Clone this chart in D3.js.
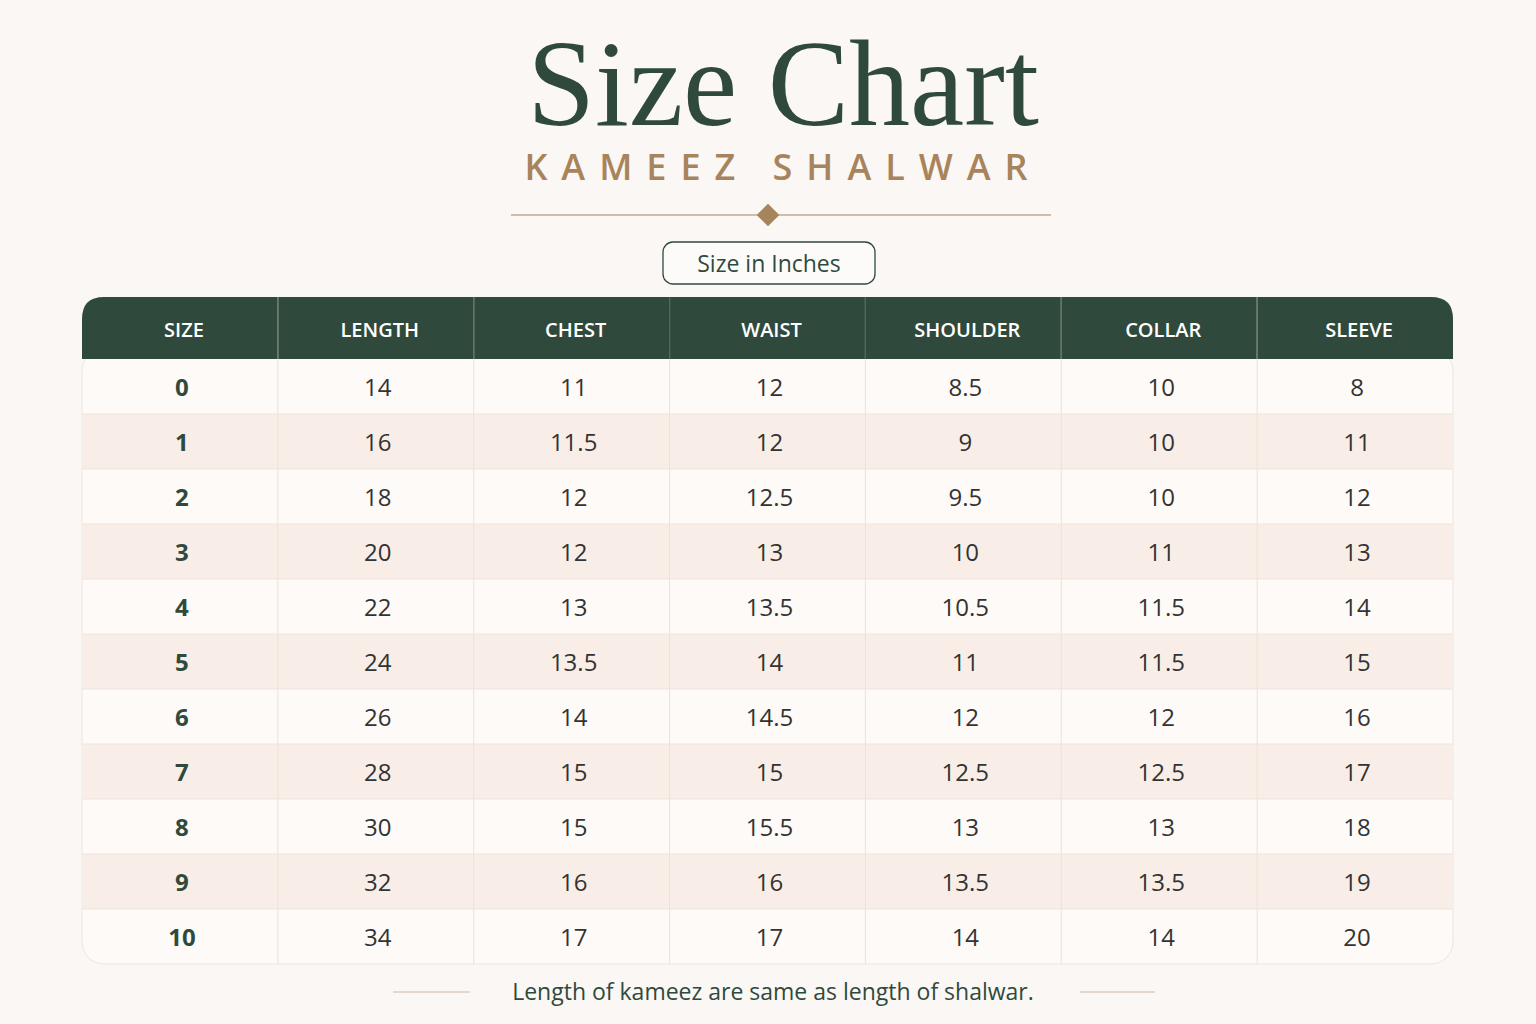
<!DOCTYPE html>
<html lang="en">
<head>
<meta charset="utf-8">
<title>Size Chart</title>
<script src="https://cdn.jsdelivr.net/npm/d3@7"></script>
<style>
  body { margin: 0; background: #fbf7f4; }
  text { font-family: "Open Sans", Lato, sans-serif; }
</style>
</head>
<body>
<script>
var columns = ["SIZE", "LENGTH", "CHEST", "WAIST", "SHOULDER", "COLLAR", "SLEEVE"];
var sizes    = ["0", "1", "2", "3", "4", "5", "6", "7", "8", "9", "10"];
var length   = ["14", "16", "18", "20", "22", "24", "26", "28", "30", "32", "34"];
var chest    = ["11", "11.5", "12", "12", "13", "13.5", "14", "15", "15", "16", "17"];
var waist    = ["12", "12", "12.5", "13", "13.5", "14", "14.5", "15", "15.5", "16", "17"];
var shoulder = ["8.5", "9", "9.5", "10", "10.5", "11", "12", "12.5", "13", "13.5", "14"];
var collar   = ["10", "10", "10", "11", "11.5", "11.5", "12", "12.5", "13", "13.5", "14"];
var sleeve   = ["8", "11", "12", "13", "14", "15", "16", "17", "18", "19", "20"];
var series = [sizes, length, chest, waist, shoulder, collar, sleeve];

var w = 1536, h = 1024;
var green = "#2f4a3d", gold = "#a8845c";

var svg = d3.select("body").append("svg").attr("width", w).attr("height", h);
svg.append("rect").attr("width", w).attr("height", h).attr("fill", "#fbf7f4");

// title block
svg.append("text").attr("x", 783).attr("y", 125).attr("text-anchor", "middle")
   .style("font-family", "'Liberation Serif', 'DejaVu Serif', serif").attr("font-size", 122)
   .attr("fill", green).text("Size Chart");
svg.append("text").attr("x", 783).attr("y", 180).attr("text-anchor", "middle")
   .attr("font-size", 36).attr("font-weight", 600).attr("letter-spacing", 14)
   .attr("fill", gold).text("KAMEEZ SHALWAR");
svg.append("line").attr("x1", 511).attr("x2", 1051).attr("y1", 215).attr("y2", 215)
   .attr("stroke", gold).attr("stroke-width", 1.2);
svg.append("rect").attr("x", 760).attr("y", 207).attr("width", 16).attr("height", 16)
   .attr("fill", gold).attr("transform", "rotate(45,768,215)");
svg.append("rect").attr("x", 663).attr("y", 242).attr("width", 212).attr("height", 42)
   .attr("rx", 10).attr("fill", "#fdfbf9").attr("stroke", green).attr("stroke-width", 1.3);
svg.append("text").attr("x", 769).attr("y", 272).attr("text-anchor", "middle")
   .attr("font-size", 23).attr("font-weight", 500).attr("fill", green).text("Size in Inches");

// table
var left = 82, right = 1453, headTop = 297, headBot = 359, bottom = 964;
var x = d3.scaleBand().domain(columns).range([left, right]);
var y = d3.scaleBand().domain(sizes).range([headBot, bottom]);

var r = 22;
svg.append("rect").attr("x", left).attr("y", headBot - 10).attr("width", right - left)
   .attr("height", bottom - headBot + 10).attr("rx", r).attr("fill", "#fdfaf8")
   .attr("stroke", "#eee5de");
svg.append("path").attr("fill", green)
   .attr("d", "M" + left + "," + headBot + "V" + (headTop + r) + "Q" + left + "," + headTop + " " + (left + r) + "," + headTop +
        "H" + (right - r) + "Q" + right + "," + headTop + " " + right + "," + (headTop + r) + "V" + headBot + "Z");

svg.selectAll("rect.band").data(sizes.filter(function(d, i) { return i % 2 === 1; }))
   .enter().append("rect").attr("class", "band")
   .attr("x", left + 1).attr("width", right - left - 2)
   .attr("y", function(d) { return y(d); }).attr("height", y.bandwidth())
   .attr("fill", "#f8eee7");

svg.selectAll("line.hr").data(sizes.slice(1)).enter().append("line")
   .attr("x1", left).attr("x2", right)
   .attr("y1", function(d) { return y(d); }).attr("y2", function(d) { return y(d); })
   .attr("stroke", "#efe4dc");
svg.selectAll("line.vr").data(columns.slice(1)).enter().append("line")
   .attr("x1", function(d) { return x(d); }).attr("x2", function(d) { return x(d); })
   .attr("y1", headTop).attr("y2", bottom)
   .attr("stroke", "#ece2da");
svg.selectAll("line.vh").data(columns.slice(1)).enter().append("line")
   .attr("x1", function(d) { return x(d); }).attr("x2", function(d) { return x(d); })
   .attr("y1", headTop).attr("y2", headBot).attr("stroke", "#46604f");

svg.selectAll("text.head").data(columns).enter().append("text")
   .attr("x", function(d) { return x(d) + x.bandwidth() / 2 + 4; }).attr("y", 337)
   .attr("text-anchor", "middle").attr("font-size", 20).attr("font-weight", 600)
   .attr("fill", "#ffffff").text(function(d) { return d; });

columns.forEach(function(c, ci) {
  svg.selectAll("text.c" + ci).data(series[ci]).enter().append("text")
     .attr("x", x(c) + x.bandwidth() / 2 + 2)
     .attr("y", function(d, i) { return y(sizes[i]) + y.bandwidth() / 2 + 9; })
     .attr("text-anchor", "middle").attr("font-size", 24)
     .attr("font-weight", ci === 0 ? 700 : 400)
     .attr("fill", ci === 0 ? green : "#333333")
     .text(function(d) { return d; });
});

// footer
svg.append("line").attr("x1", 393).attr("x2", 470).attr("y1", 992).attr("y2", 992).attr("stroke", "#cdb9a3");
svg.append("line").attr("x1", 1080).attr("x2", 1155).attr("y1", 992).attr("y2", 992).attr("stroke", "#cdb9a3");
svg.append("text").attr("x", 773).attr("y", 1000).attr("text-anchor", "middle")
   .attr("font-size", 23).attr("fill", green).text("Length of kameez are same as length of shalwar.");
</script>
</body>
</html>
